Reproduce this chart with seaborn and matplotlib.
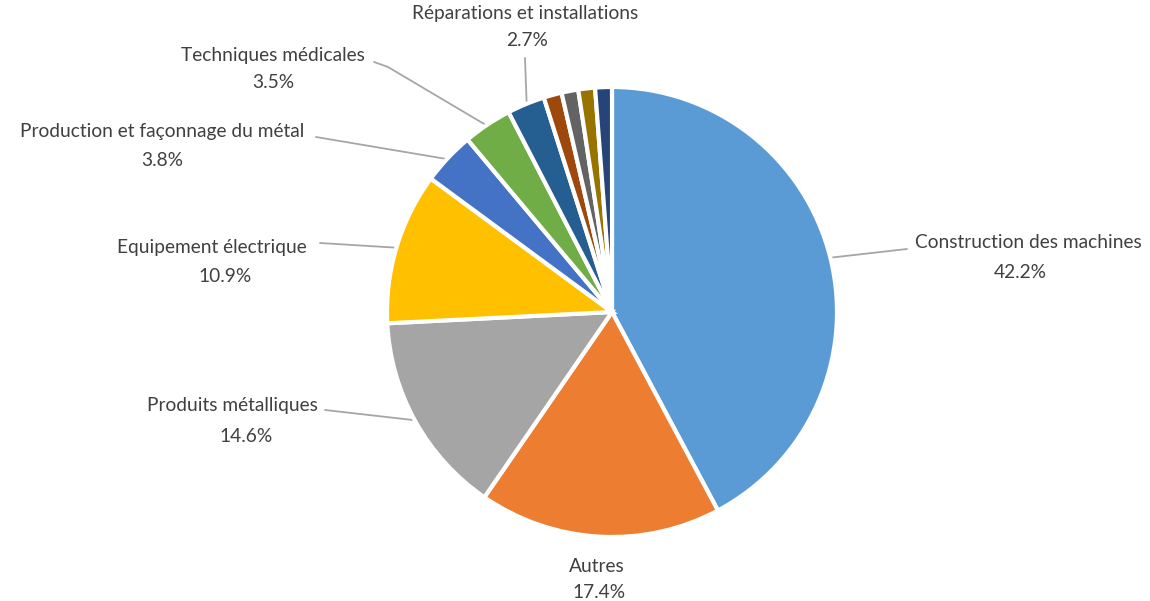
import numpy as np
import matplotlib.pyplot as plt
import seaborn as sns

sns.set_theme(style="white")
plt.rcParams['font.family'] = ['Lato', 'DejaVu Sans']

# data
labels = ['Construction des machines', 'Autres', 'Produits métalliques',
          'Equipement électrique', 'Production et façonnage du métal',
          'Techniques médicales', 'Réparations et installations',
          '', '', '', '']
values = [42.2, 17.4, 14.6, 10.9, 3.8, 3.5, 2.7, 1.3, 1.2, 1.2, 1.2]
colors = ['#5B9BD5', '#ED7D31', '#A5A5A5', '#FFC000', '#4472C4', '#70AD47',
          '#255E91', '#9E480E', '#636363', '#997300', '#264478']

W, H = 1150, 601
cx, cy, R = 612, 312, 225

fig = plt.figure(figsize=(W / 100, H / 100), dpi=100)
ax = fig.add_axes([0, 0, 1, 1])
ax.pie(values, colors=colors, startangle=90, counterclock=False,
       radius=1.0, center=(0, 0),
       wedgeprops=dict(edgecolor='white', linewidth=3))
ax.set_xlim(-cx / R, (W - cx) / R)
ax.set_ylim(-(H - cy) / R, cy / R)
ax.set_aspect('auto')
ax.axis('off')


def px(x, y):
    return (x - cx) / R, (cy - y) / R


# label layout in pixels: name centre, pct centre, leader line points (text side)
layout = {
    0: ((1028, 243), (1020, 273), [(907, 249)]),
    1: ((597, 566), (599, 593), None),
    2: ((232, 405), (246, 436), [(325, 410)]),
    3: ((212, 248), (225, 276), [(320, 243)]),
    4: ((162, 131), (162, 160), [(316, 137)]),
    5: ((273, 55), (273, 82), [(388, 67), (374, 62)]),
    6: ((525, 14), (527, 40), [(525, 58)]),
}

total = sum(values)
cum = np.cumsum([0] + values)
text_col = '#404040'
for i, (name_pos, pct_pos, pts) in layout.items():
    mid = (cum[i] + values[i] / 2) / total * 360
    ang = np.deg2rad(90 - mid)
    sx, sy = np.cos(ang) * 0.99, np.sin(ang) * 0.99
    if pts is not None:
        xs = [sx] + [px(*p)[0] for p in pts]
        ys = [sy] + [px(*p)[1] for p in pts]
        ax.plot(xs, ys, color='#A6A6A6', lw=1.3, zorder=0)
    ax.text(*px(*name_pos), labels[i], ha='center', va='center',
            fontsize=13.8, color=text_col)
    ax.text(*px(*pct_pos), f'{values[i]:.1f}%', ha='center', va='center',
            fontsize=13.8, color=text_col)

fig.savefig('out.png', dpi=100, facecolor='white')
